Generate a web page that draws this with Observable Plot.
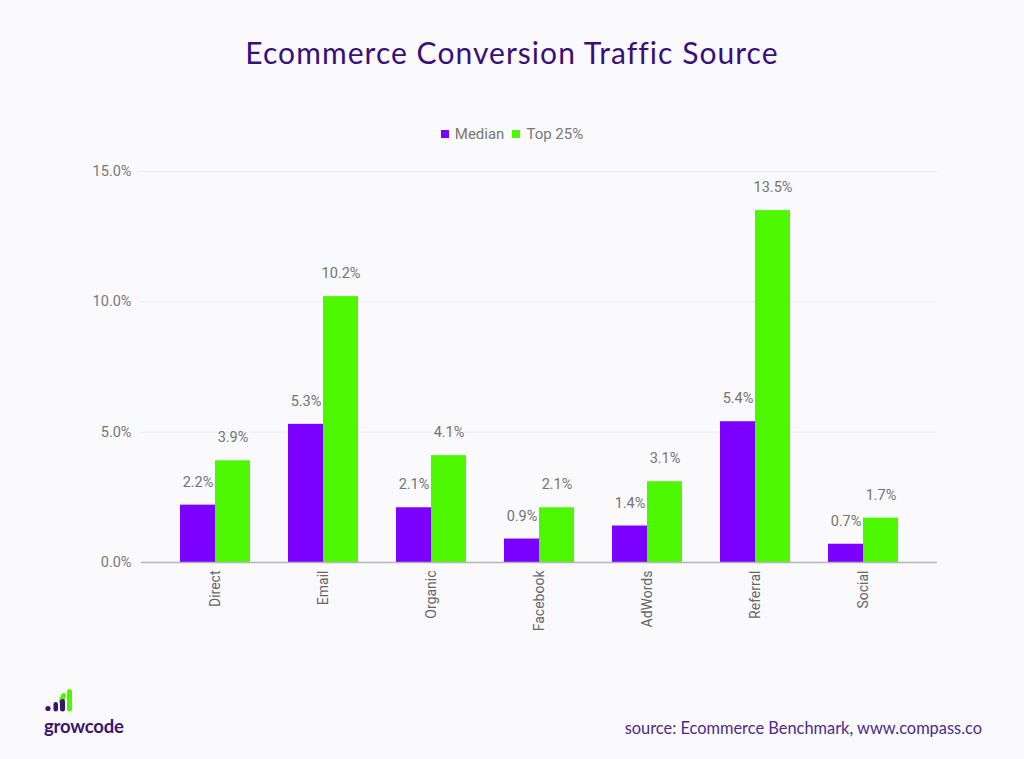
<!DOCTYPE html>
<html>
<head>
<meta charset="utf-8">
<script src="https://cdn.jsdelivr.net/npm/d3@7"></script>
<script src="https://cdn.jsdelivr.net/npm/@observablehq/plot@0.6"></script>
<style>
  html, body { margin: 0; padding: 0; background: #fafafc; }
  #wrap { position: relative; width: 1024px; height: 759px; overflow: hidden; background: #fafafc; }
  #title { position: absolute; left: 0; width: 1024px; top: 34px; text-align: center;
    font-family: Lato, "Noto Sans", sans-serif; font-size: 30px; color: #3b0f7a; letter-spacing: 1.05px; }
  #legend { position: absolute; left: 0; width: 1024px; top: 125px; text-align: center;
    font-family: Roboto, sans-serif; font-size: 15px; color: #777; }
  #legend span.sw { display: inline-block; width: 8px; height: 8px; margin-right: 6px; vertical-align: 1px; }
  #legend span.it { margin: 0 4px; }
  #chart { position: absolute; left: 0; top: 0; }
  #source { position: absolute; right: 42px; top: 718px; font-family: Lato, "Noto Sans", sans-serif;
    font-size: 16.4px; color: #4b2a8e; }
  #logo { position: absolute; left: 43px; top: 687px; }
  #brand { position: absolute; left: 44px; top: 715px; font-family: Lato, "Noto Sans", sans-serif;
    font-weight: 700; font-size: 18.5px; color: #3a1470; letter-spacing: -0.2px; }
</style>
</head>
<body>
<div id="wrap">
  <div id="chart"></div>
  <div id="title">Ecommerce Conversion Traffic Source</div>
  <div id="legend"></div>
  <svg id="logo" width="36" height="26" viewBox="0 0 36 26">
    <circle cx="5" cy="21.5" r="2.6" fill="#3a1470"/>
    <rect x="10.5" y="15" width="4.5" height="9.5" rx="2.25" fill="#3a1470"/>
    <rect x="17" y="6" width="5" height="11" rx="2.5" transform="rotate(20 19.5 11.5)" fill="#4cf700"/>
    <rect x="24" y="2" width="5" height="22.5" rx="2.5" fill="#4cf700"/>
    <rect x="17" y="12" width="5" height="12.5" rx="2.5" fill="#3a1470"/>
  </svg>
  <div id="brand">growcode</div>
  <div id="source">source: Ecommerce Benchmark, www.compass.co</div>
</div>
<script>
const categories = ["Direct", "Email", "Organic", "Facebook", "AdWords", "Referral", "Social"];
const median = [2.2, 5.3, 2.1, 0.9, 1.4, 5.4, 0.7];
const top25 = [3.9, 10.2, 4.1, 2.1, 3.1, 13.5, 1.7];
const seriesNames = ["Median", "Top 25%"];
const seriesColors = ["#7b00ff", "#4cf700"];
const yTicks = [0, 5, 10, 15];

const medRows = categories.map((c, i) => ({cat: c, v: median[i], s: seriesNames[0]}));
const topRows = categories.map((c, i) => ({cat: c, v: top25[i], s: seriesNames[1]}));

// legend
const leg = document.getElementById("legend");
seriesNames.forEach((n, i) => {
  const it = document.createElement("span");
  it.className = "it";
  it.innerHTML = `<span class="sw" style="background:${seriesColors[i]}"></span>${n}`;
  leg.appendChild(it);
});

const half = 35;
const chart = Plot.plot({
  width: 1024,
  height: 759,
  marginTop: 171,
  marginBottom: 197,
  marginLeft: 141,
  marginRight: 87,
  style: {background: "transparent", fontFamily: "Roboto, sans-serif"},
  x: {domain: categories, paddingInner: 0.354, paddingOuter: 0.177, insetLeft: 18, insetRight: 18, label: null},
  y: {domain: [0, 15], label: null},
  marks: [
    Plot.ruleY(yTicks.filter(d => d > 0), {stroke: "#ebebeb", strokeWidth: 1}),
    Plot.barY(medRows, {x: "cat", y: "v", fill: seriesColors[0], insetRight: half, insetLeft: 0}),
    Plot.barY(topRows, {x: "cat", y: "v", fill: seriesColors[1], insetLeft: half, insetRight: 0}),
    Plot.text(medRows, {x: "cat", y: "v", text: d => d.v.toFixed(1) + "%", dx: -17.5, dy: -23,
      fill: "#737373", fontSize: 14.5, fontWeight: 400}),
    Plot.text(topRows, {x: "cat", y: "v", text: d => d.v.toFixed(1) + "%", dx: 17.5, dy: -23,
      fill: "#737373", fontSize: 14.5, fontWeight: 400}),
    Plot.ruleY([0], {stroke: "#b5b5b5", strokeWidth: 1.3}),
    Plot.axisY({ticks: yTicks, tickFormat: d => d.toFixed(1) + "%", tickSize: 0, tickPadding: 10,
      fill: "#777", fontSize: 14.5, fontWeight: 400}),
    Plot.axisX({tickSize: 0, tickRotate: -90, tickPadding: 8, fill: "#666", fontSize: 14,
      fontWeight: 400})
  ]
});
document.getElementById("chart").appendChild(chart);
</script>
</body>
</html>
